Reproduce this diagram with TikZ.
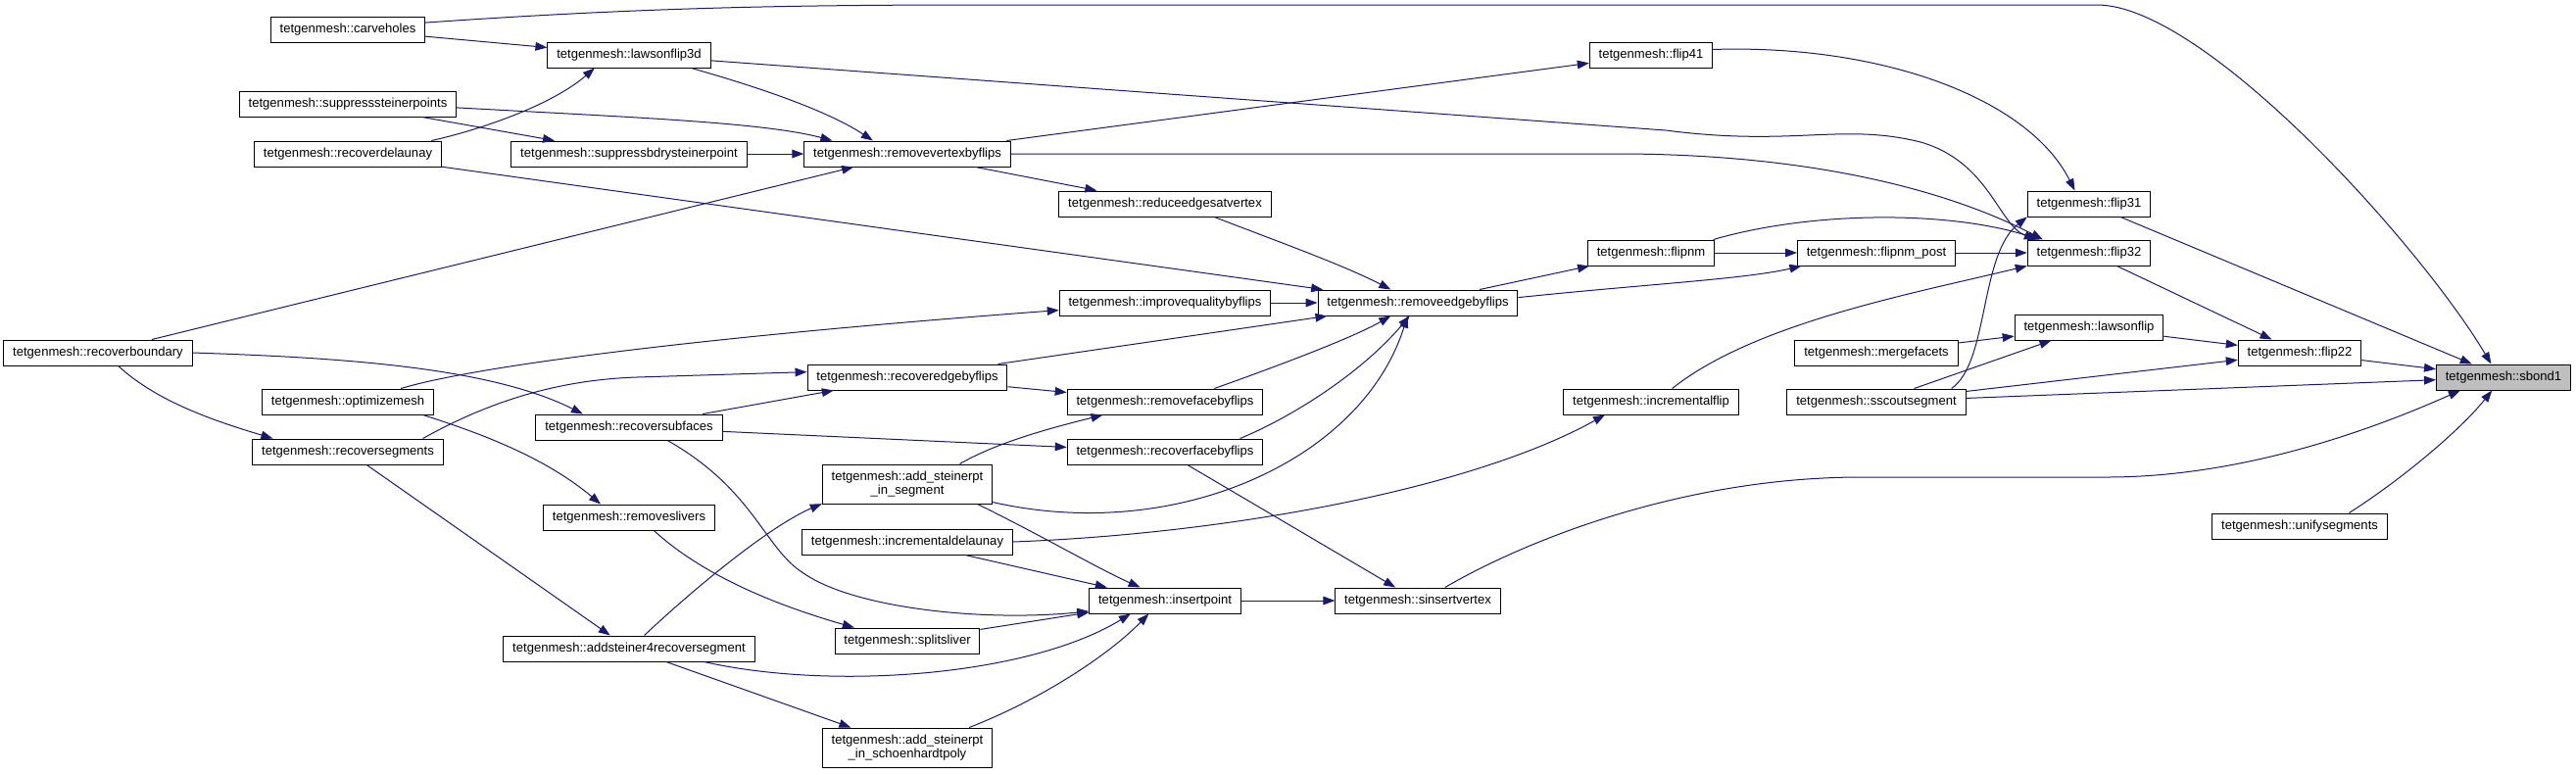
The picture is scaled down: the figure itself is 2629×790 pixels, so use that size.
\documentclass[tikz,border=0pt]{standalone}
\usepackage{fontspec}
\setmainfont{Liberation Sans}
\usetikzlibrary{arrows.meta}
\definecolor{edgeblue}{HTML}{191970}
\definecolor{focusgray}{HTML}{BFBFBF}

\begin{document}
\begin{tikzpicture}[x=0.75pt,y=-0.75pt,
		fn/.style={draw=black,fill=white,line width=0.75pt,inner xsep=7pt,inner ysep=0pt,minimum height=19.5pt,font=\fontsize{9.8}{10.5}\selectfont},
		fntwo/.style={fn,align=center,minimum height=30pt},
		focus/.style={fn,fill=focusgray},
		call/.style={draw=edgeblue,line width=0.75pt,-{Triangle[length=9pt,width=6.5pt]}}]
	\useasboundingbox (0,0) rectangle (2629,790);
	% callers, column by column
	\node[fn] (recoverboundary) at (100,360) {tetgenmesh::recoverboundary};
	\node[fn] (carveholes) at (355,30) {tetgenmesh::carveholes};
	\node[fn] (suppresssteinerpoints) at (355,106) {tetgenmesh::suppresssteinerpoints};
	\node[fn] (recoverdelaunay) at (355,157) {tetgenmesh::recoverdelaunay};
	\node[fn] (optimizemesh) at (355,410) {tetgenmesh::optimizemesh};
	\node[fn] (recoversegments) at (355,461) {tetgenmesh::recoversegments};
	\node[fn] (lawsonflip3d) at (642,56) {tetgenmesh::lawsonflip3d};
	\node[fn] (suppressbdrysteinerpoint) at (642,157) {tetgenmesh::suppressbdrysteinerpoint};
	\node[fn] (recoversubfaces) at (642,436) {tetgenmesh::recoversubfaces};
	\node[fn] (removeslivers) at (642,528) {tetgenmesh::removeslivers};
	\node[fn] (addsteinerfourrecoverseg) at (642,662) {tetgenmesh::addsteiner4recoversegment};
	\node[fn] (removevertexbyflips) at (926,157) {tetgenmesh::removevertexbyflips};
	\node[fn] (recoveredgebyflips) at (926,385) {tetgenmesh::recoveredgebyflips};
	\node[fntwo] (steinerinsegment) at (926,494) {tetgenmesh::add\_steinerpt\\\_in\_segment};
	\node[fn] (incrementaldelaunay) at (926,553) {tetgenmesh::incrementaldelaunay};
	\node[fn] (splitsliver) at (926,654) {tetgenmesh::splitsliver};
	\node[fntwo] (steinerinschoenhardt) at (926,763) {tetgenmesh::add\_steinerpt\\\_in\_schoenhardtpoly};
	\node[fn] (reduceedgesatvertex) at (1189,208) {tetgenmesh::reduceedgesatvertex};
	\node[fn] (improvequalitybyflips) at (1189,309) {tetgenmesh::improvequalitybyflips};
	\node[fn] (removefacebyflips) at (1189,410) {tetgenmesh::removefacebyflips};
	\node[fn] (recoverfacebyflips) at (1189,461) {tetgenmesh::recoverfacebyflips};
	\node[fn] (insertpoint) at (1189,613) {tetgenmesh::insertpoint};
	\node[fn] (removeedgebyflips) at (1447,309) {tetgenmesh::removeedgebyflips};
	\node[fn] (sinsertvertex) at (1447,613) {tetgenmesh::sinsertvertex};
	\node[fn] (flip41) at (1685,56) {tetgenmesh::flip41};
	\node[fn] (flipnm) at (1685,258) {tetgenmesh::flipnm};
	\node[fn] (incrementalflip) at (1685,410) {tetgenmesh::incrementalflip};
	\node[fn] (flipnmpost) at (1915,258) {tetgenmesh::flipnm\_post};
	\node[fn] (mergefacets) at (1915,360) {tetgenmesh::mergefacets};
	\node[fn] (sscoutsegment) at (1915,410) {tetgenmesh::sscoutsegment};
	\node[fn] (flip31) at (2132,208) {tetgenmesh::flip31};
	\node[fn] (flip32) at (2132,258) {tetgenmesh::flip32};
	\node[fn] (lawsonflip) at (2132,334) {tetgenmesh::lawsonflip};
	\node[fn] (flip22) at (2347,360) {tetgenmesh::flip22};
	\node[fn] (unifysegments) at (2347,537) {tetgenmesh::unifysegments};
	\node[focus] (sbond1) at (2555,385) {tetgenmesh::sbond1};
	% calls
	\draw[call] (carveholes) -- (lawsonflip3d);
	\draw[call] (carveholes.5) .. controls (650,8) and (800,5) .. (1000,5) -- (2140,5) .. controls (2250,5) and (2470,250) .. (sbond1.133);
	\draw[call] (lawsonflip3d.-12) .. controls (760,85) and (840,110) .. (removevertexbyflips.159);
	\draw[call] (lawsonflip3d.-4) -- (1700,133) .. controls (1830,150) and (1880,125) .. (1960,145) .. controls (2030,165) and (2040,230) .. (flip32.166);
	\draw[call] (suppresssteinerpoints.-2) .. controls (650,120) and (780,125) .. (removevertexbyflips.170);
	\draw[call] (suppresssteinerpoints) -- (suppressbdrysteinerpoint);
	\draw[call] (recoverdelaunay.9) .. controls (480,135) and (560,110) .. (lawsonflip3d.201);
	\draw[call] (recoverdelaunay) -- (removeedgebyflips);
	\draw[call] (suppressbdrysteinerpoint) -- (removevertexbyflips);
	\draw[call] (recoverboundary) -- (removevertexbyflips);
	\draw[call] (recoverboundary.east) .. controls (350,365) and (500,375) .. (recoversubfaces.164);
	\draw[call] (recoverboundary.-33) .. controls (160,410) and (220,430) .. (recoversegments.170);
	\draw[call] (removevertexbyflips) -- (flip41);
	\draw[call] (removevertexbyflips) -- (reduceedgesatvertex);
	\draw[call] (removevertexbyflips.east) -- (1650,157) .. controls (1850,157) and (1990,195) .. (flip32.164);
	\draw[call] (reduceedgesatvertex.-15) .. controls (1300,245) and (1370,270) .. (removeedgebyflips.154);
	\draw[call] (improvequalitybyflips) -- (removeedgebyflips);
	\draw[call] (removeedgebyflips) -- (flipnm);
	\draw[call] (removeedgebyflips.3) .. controls (1680,290) and (1780,285) .. (flipnmpost.190);
	\draw[call] (flipnm) -- (flipnmpost);
	\draw[call] (flipnm.12) .. controls (1850,215) and (1990,215) .. (flip32.165);
	\draw[call] (flipnmpost) -- (flip32);
	\draw[call] (flip41.5) .. controls (1920,45) and (2070,100) .. (flip31.137);
	\draw[call] (flip31) -- (sbond1);
	\draw[call] (flip32) -- (flip22);
	\draw[call] (lawsonflip) -- (flip22);
	\draw[call] (mergefacets) -- (lawsonflip);
	\draw[call] (sscoutsegment) -- (lawsonflip);
	\draw[call] (sscoutsegment.10) .. controls (2030,370) and (2020,260) .. (flip31.192);
	\draw[call] (sscoutsegment) -- (flip22);
	\draw[call] (sscoutsegment) -- (sbond1);
	\draw[call] (flip22) -- (sbond1);
	\draw[call] (incrementalflip.32) .. controls (1790,330) and (1950,300) .. (flip32.192);
	\draw[call] (incrementaldelaunay.east) .. controls (1250,545) and (1500,500) .. (incrementalflip.196);
	\draw[call] (sinsertvertex.26) .. controls (1560,550) and (1720,487) .. (1900,487) -- (2150,487) .. controls (2300,487) and (2440,430) .. (sbond1.197);
	\draw[call] (unifysegments.15) .. controls (2450,490) and (2510,440) .. (sbond1.229);
	\draw[call] (optimizemesh.14) .. controls (480,375) and (700,345) .. (improvequalitybyflips.184);
	\draw[call] (optimizemesh.-10) .. controls (500,445) and (560,470) .. (removeslivers.155);
	\draw[call] (recoversegments.10) .. controls (490,415) and (560,388) .. (650,385) -- (recoveredgebyflips.177);
	\draw[call] (recoversegments) -- (addsteinerfourrecoverseg);
	\draw[call] (recoversubfaces) -- (recoveredgebyflips);
	\draw[call] (recoversubfaces) -- (recoverfacebyflips);
	\draw[call] (recoversubfaces.-19) .. controls (770,500) and (780,560) .. (820,585) .. controls (870,620) and (1000,635) .. (insertpoint.188);
	\draw[call] (removeslivers.-28) .. controls (720,590) and (800,620) .. (splitsliver.166);
	\draw[call] (addsteinerfourrecoverseg.41) .. controls (720,590) and (790,535) .. (steinerinsegment.193);
	\draw[call] (addsteinerfourrecoverseg.-10) .. controls (850,705) and (1050,690) .. (insertpoint.201);
	\draw[call] (addsteinerfourrecoverseg) -- (steinerinschoenhardt);
	\draw[call] (recoveredgebyflips) -- (removeedgebyflips);
	\draw[call] (recoveredgebyflips) -- (removefacebyflips);
	\draw[call] (steinerinsegment.21) .. controls (1020,450) and (1080,435) .. (removefacebyflips.192);
	\draw[call] (steinerinsegment.-12) .. controls (1200,555) and (1390,470) .. (removeedgebyflips.232);
	\draw[call] (steinerinsegment.-16) .. controls (1060,545) and (1120,580) .. (insertpoint.152);
	\draw[call] (incrementaldelaunay) -- (insertpoint);
	\draw[call] (splitsliver) -- (insertpoint);
	\draw[call] (steinerinschoenhardt.18) .. controls (1060,715) and (1130,670) .. (insertpoint.219);
	\draw[call] (removefacebyflips.15) .. controls (1300,375) and (1380,345) .. (removeedgebyflips.206);
	\draw[call] (recoverfacebyflips.10) .. controls (1320,425) and (1390,380) .. (removeedgebyflips.238);
	\draw[call] (recoverfacebyflips) -- (sinsertvertex);
	\draw[call] (insertpoint) -- (sinsertvertex);
\end{tikzpicture}
\end{document}
